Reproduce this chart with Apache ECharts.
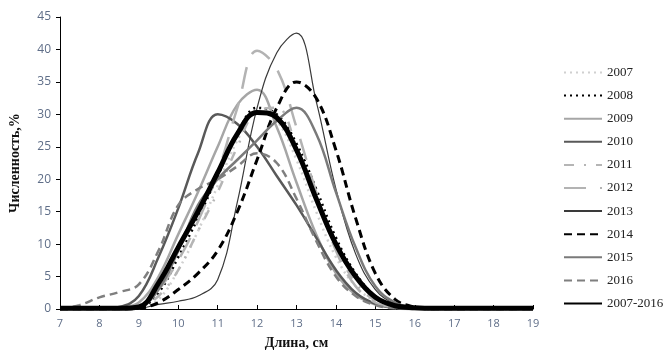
<!DOCTYPE html>
<html>
<head>
<meta charset="utf-8">
<script src="https://cdn.jsdelivr.net/npm/echarts@6/dist/echarts.min.js"></script>
<style>
  html, body { margin: 0; padding: 0; background: #fff; }
  #chart { width: 664px; height: 355px; }
</style>
</head>
<body>
<div id="chart"></div>
<script>
// length classes, cm (step 0.5)
const lengths = [7, 7.5, 8, 8.5, 9, 9.5, 10, 10.5, 11, 11.5, 12, 12.5, 13, 13.5, 14, 14.5, 15, 15.5, 16, 16.5, 17, 17.5, 18, 18.5, 19];

const y2007 = [0, 0, 0, 0, 0.1, 1.5, 6, 12, 19, 26, 30.5, 29, 23, 15, 8, 3.5, 1.2, 0.3, 0.1, 0, 0, 0, 0, 0, 0];
const y2008 = [0, 0, 0, 0, 0.2, 2.5, 8, 14, 20.5, 27, 31, 30, 25.5, 18.5, 11, 5.5, 2, 0.5, 0.1, 0, 0, 0, 0, 0, 0];
const y2009 = [0, 0, 0, 0.2, 1, 5, 11.5, 18, 25, 31.5, 33.8, 28, 19.5, 11.5, 5.5, 2.2, 0.7, 0.2, 0, 0, 0, 0, 0, 0, 0];
const y2010 = [0, 0, 0, 0.3, 2, 8, 15.5, 24, 30, 28.5, 25, 20.5, 16, 11, 6, 2.5, 0.8, 0.2, 0, 0, 0, 0, 0, 0, 0];
const y2011 = [0, 0, 0, 0, 0.3, 2, 6, 12, 18, 25, 30.5, 31, 25, 17, 9.5, 4, 1.3, 0.3, 0, 0, 0, 0, 0, 0, 0];
const y2012 = [0, 0, 0, 0, 0.5, 3, 7.5, 13.5, 21, 31, 39.8, 37, 28, 18, 9, 3.5, 1, 0.2, 0, 0, 0, 0, 0, 0, 0];
const y2013 = [0, 0, 0, 0, 0.1, 0.7, 1.2, 2, 4.5, 16.5, 31, 39.5, 42.5, 32, 18.5, 8.5, 3, 0.8, 0.2, 0, 0, 0, 0, 0, 0];
const y2014 = [0, 0, 0, 0, 0.1, 1, 3, 5.5, 9, 15, 23, 31, 35, 32.5, 24.5, 14, 5.5, 1.5, 0.3, 0, 0, 0, 0, 0, 0];
const y2015 = [0, 0, 0, 0, 0.3, 3, 9, 16, 20, 23, 26, 29, 31, 27, 18, 9.5, 3.5, 1, 0.2, 0, 0, 0, 0, 0, 0];
const y2016 = [0, 0.6, 1.8, 2.6, 3.8, 9, 16, 18.5, 20, 22, 24, 22.5, 17, 10.5, 5, 2, 0.6, 0.1, 0, 0, 0, 0, 0, 0, 0];
const yAll = [0.1, 0.1, 0.1, 0.1, 0.3, 4, 9.5, 15, 21, 27, 30.3, 29.5, 24.5, 17, 10, 5, 1.8, 0.5, 0.2, 0.1, 0.1, 0.1, 0.1, 0.1, 0.1];

const seriesDefs = [
  { name: '2007', values: y2007, color: '#d0d0d0', width: 2.5, type: [2, 4] },
  { name: '2008', values: y2008, color: '#000000', width: 2.5, type: [2, 4] },
  { name: '2009', values: y2009, color: '#a6a6a6', width: 2.5, type: 'solid' },
  { name: '2010', values: y2010, color: '#595959', width: 2.5, type: 'solid' },
  { name: '2011', values: y2011, color: '#b5b5b5', width: 2.5, type: [10, 10, 2, 10] },
  { name: '2012', values: y2012, color: '#b3b3b3', width: 2.5, type: [22, 14] },
  { name: '2013', values: y2013, color: '#3a3a3a', width: 1.2, type: 'solid' },
  { name: '2014', values: y2014, color: '#000000', width: 3, type: [8, 5] },
  { name: '2015', values: y2015, color: '#7a7a7a', width: 2.5, type: 'solid' },
  { name: '2016', values: y2016, color: '#7f7f7f', width: 2.5, type: [8, 5] },
  { name: '2007-2016', values: yAll, color: '#000000', width: 5, type: 'solid' }
];

const tickColor = '#5f6e88';
const chart = echarts.init(document.getElementById('chart'), null, { renderer: 'canvas' });

chart.setOption({
  animation: false,
  backgroundColor: '#ffffff',
  grid: { left: 55, right: 131, top: 17, bottom: 46 },
  legend: {
    orient: 'vertical',
    left: 558,
    top: 61,
    itemWidth: 38,
    itemHeight: 14,
    itemGap: 10.1,
    itemStyle: { opacity: 0 },
    textStyle: { fontFamily: 'Liberation Serif', fontSize: 13, color: '#222' },
    data: seriesDefs.map((s) => s.name)
  },
  xAxis: {
    type: 'value',
    min: 7,
    max: 19,
    interval: 1,
    name: 'Длина, см',
    nameLocation: 'middle',
    nameGap: 27,
    nameTextStyle: { fontFamily: 'Liberation Serif', fontWeight: 'bold', fontSize: 14, color: '#111' },
    axisLine: { lineStyle: { color: '#000', width: 1 } },
    axisTick: { inside: true, length: 4, lineStyle: { color: '#000' } },
    axisLabel: { color: tickColor, fontFamily: 'Open Sans', fontSize: 11, margin: 9 },
    splitLine: { show: false }
  },
  yAxis: {
    type: 'value',
    min: 0,
    max: 45,
    interval: 5,
    name: 'Численность,%',
    nameLocation: 'middle',
    nameGap: 38,
    nameTextStyle: { fontFamily: 'Liberation Serif', fontWeight: 'bold', fontSize: 14, color: '#111' },
    axisLine: { show: true, lineStyle: { color: '#000', width: 1 } },
    axisTick: { show: true, length: 4, lineStyle: { color: '#000' } },
    axisLabel: { color: tickColor, fontFamily: 'Open Sans', fontSize: 12, margin: 9 },
    splitLine: { show: false }
  },
  series: seriesDefs.map((s) => ({
    name: s.name,
    type: 'line',
    smooth: 0.4,
    symbol: 'none',
    color: s.color,
    lineStyle: { color: s.color, width: s.width, type: s.type },
    data: lengths.map((x, i) => [x, s.values[i]])
  }))
});
</script>
</body>
</html>
